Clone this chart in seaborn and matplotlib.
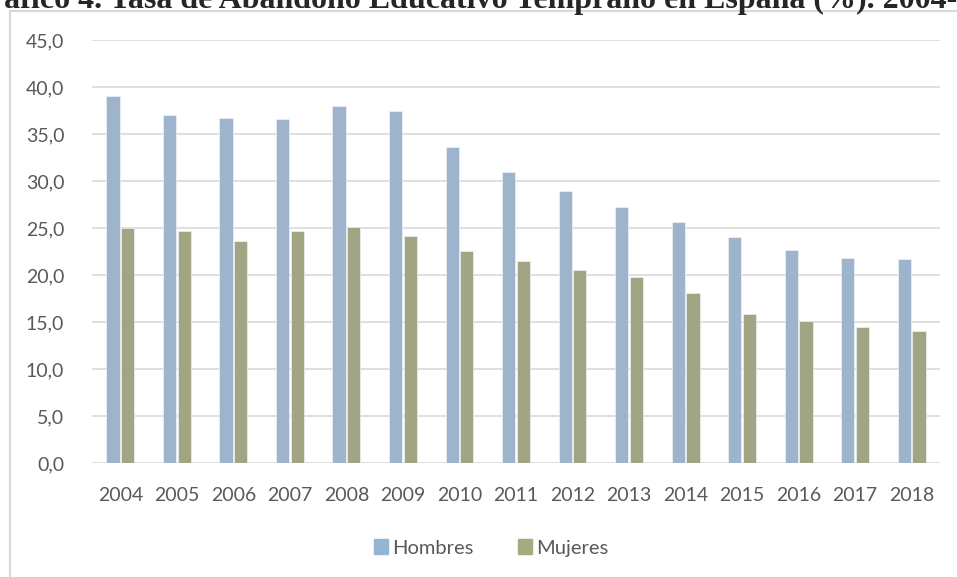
import pandas as pd
import matplotlib.pyplot as plt
import matplotlib.patches as mpatches
import seaborn as sns

# Tasa de abandono educativo temprano (%), por sexo
years = ["2004", "2005", "2006", "2007", "2008", "2009", "2010", "2011",
         "2012", "2013", "2014", "2015", "2016", "2017", "2018"]
hombres = [39.0, 37.0, 36.7, 36.6, 38.0, 37.4, 33.6, 31.0,
           28.9, 27.2, 25.6, 24.0, 22.7, 21.8, 21.7]
mujeres = [25.0, 24.7, 23.6, 24.7, 25.1, 24.1, 22.6, 21.5,
           20.5, 19.8, 18.1, 15.8, 15.1, 14.5, 14.0]
series = ["Hombres", "Mujeres"]
colors = ["#95B4D4", "#A5AA7F"]

df = pd.DataFrame({"Año": years * 2,
                   "Tasa": hombres + mujeres,
                   "Sexo": ["Hombres"] * len(years) + ["Mujeres"] * len(years)})

sns.set_style("white")
plt.rcParams["font.family"] = ["Lato", "DejaVu Sans"]

fig = plt.figure(figsize=(9.57, 5.77), dpi=100)
ax = fig.add_axes([92 / 957, 1 - 463 / 577, (940 - 92) / 957, (463 - 40) / 577])

sns.barplot(data=df, x="Año", y="Tasa", hue="Sexo", palette=colors,
            width=0.52, gap=0.1, ax=ax, legend=False, zorder=3,
            edgecolor="#eef2f7", linewidth=0.5)

ax.set_ylim(0, 45)
ax.set_xlim(-0.5, len(years) - 0.5)
ticks = list(range(0, 50, 5))
ax.set_yticks(ticks)
ax.set_yticklabels([f"{t:.1f}".replace(".", ",") for t in ticks])
ax.yaxis.grid(True, color="#d9d9d9", linewidth=1.2, zorder=0)
ax.set_axisbelow(True)
for s in ax.spines.values():
    s.set_visible(False)
ax.tick_params(axis="both", length=0, labelsize=14, labelcolor="#595959")
ax.tick_params(axis="y", pad=20)
ax.tick_params(axis="x", pad=17)
ax.set_xlabel("")
ax.set_ylabel("")

# marco del gráfico
fig.patches.append(mpatches.Rectangle((9.5 / 957, -0.1), 1.2, 1 - 11 / 577 + 0.1,
                                      transform=fig.transFigure, fill=False,
                                      edgecolor="#d9d9d9", linewidth=1.5))

# título (recortado en la imagen original)
fig.text(-0.037, 1 - 8 / 577, "Gráfico 4. Tasa de Abandono Educativo Temprano en España (%). 2004-2018",
         family=["Liberation Serif"], weight="bold", fontsize=23, ha="left", va="baseline")

handles = [mpatches.Patch(color=c, label=l) for c, l in zip(colors, series)]
fig.legend(handles=handles, loc="center", bbox_to_anchor=(491 / 957, 1 - 548 / 577),
           ncol=2, frameon=False, fontsize=14.5, handlelength=0.7, handleheight=0.7,
           handletextpad=0.2, columnspacing=2.2, labelcolor="#595959")

fig.savefig("out.png", dpi=100)
